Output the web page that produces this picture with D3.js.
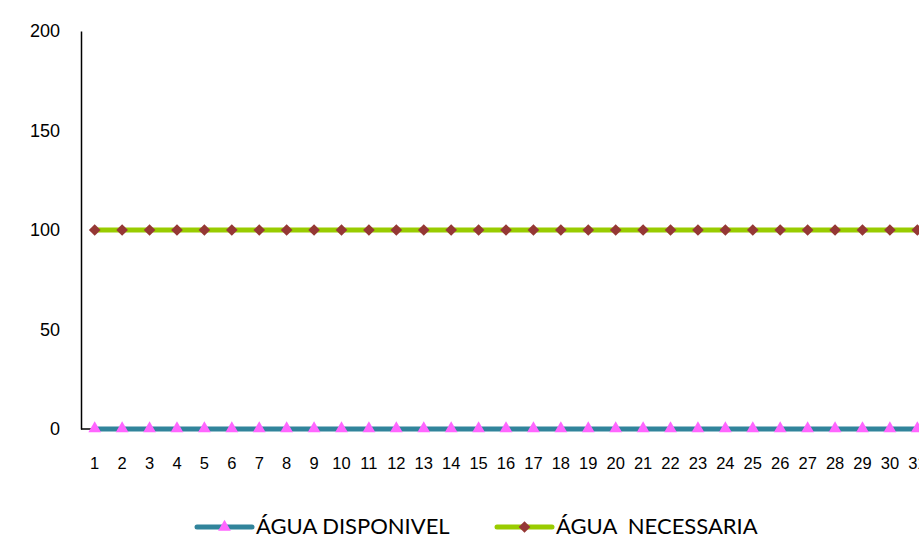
<!DOCTYPE html>
<html><head><meta charset="utf-8">
<script src="https://cdn.jsdelivr.net/npm/d3@7"></script>
<style>body{margin:0;background:#fff}svg{display:block}</style>
</head><body>
<svg id="c" width="919" height="538"></svg>
<script>
const categories = d3.range(1, 32).map(String);
const aguaDisponivel = [0,0,0,0,0,0,0,0,0,0,0,0,0,0,0,0,0,0,0,0,0,0,0,0,0,0,0,0,0,0,0];
const aguaNecessaria = [100,100,100,100,100,100,100,100,100,100,100,100,100,100,100,100,100,100,100,100,100,100,100,100,100,100,100,100,100,100,100];
const yTicks = [0, 50, 100, 150, 200];
const seriesNames = ["ÁGUA DISPONIVEL", "ÁGUA  NECESSARIA"];

(function () {
const svg = d3.select("#c");
const mLeft = 81, mTop = 31, mBottom = 429, step = 27.42;
const x = d3.scaleBand().domain(categories).range([mLeft, mLeft + step * categories.length]);
const y = d3.scaleLinear().domain([0, 200]).range([mBottom, mTop]);

// y axis
const ya = svg.append("g").attr("transform", `translate(${mLeft},0)`)
  .call(d3.axisLeft(y).tickValues(yTicks).tickSize(0).tickPadding(21));
ya.attr("font-size", null).attr("font-family", null);
ya.select(".domain").attr("stroke", "#000").attr("stroke-width", 1.5);
ya.selectAll("text").style("font-family", "'Liberation Sans', Arial, sans-serif").style("font-size", "18px").attr("fill", "#000");

// x axis
const xa = svg.append("g").attr("transform", `translate(0,${mBottom})`)
  .call(d3.axisBottom(x).tickSize(0).tickPadding(28));
xa.attr("font-size", null).attr("font-family", null);
xa.select(".domain").attr("stroke", "#000").attr("stroke-width", 1.5).attr("d", `M${mLeft},0H${mLeft + step * categories.length}`);
xa.selectAll("text").style("font-family", "'Liberation Sans', Arial, sans-serif").style("font-size", "16.5px").attr("fill", "#000");

const cx = d => x(d) + x.bandwidth() / 2;
const line = d3.line().x((d, i) => cx(categories[i])).y(d => y(d));

const tri = d3.symbol().type(d3.symbolTriangle).size(70);
const dia = d3.symbol().type(d3.symbolSquare).size(68);

// Necessaria
svg.append("path").datum(aguaNecessaria).attr("d", line).attr("fill", "none")
  .attr("stroke", "#99CC00").attr("stroke-width", 5);
svg.append("g").selectAll("path").data(aguaNecessaria).join("path")
  .attr("d", dia).attr("fill", "#953735")
  .attr("transform", (d, i) => `translate(${cx(categories[i])},${y(d)}) rotate(45)`);

// Disponivel
svg.append("path").datum(aguaDisponivel).attr("d", line).attr("fill", "none")
  .attr("stroke", "#31849B").attr("stroke-width", 5);
svg.append("g").selectAll("path").data(aguaDisponivel).join("path")
  .attr("d", tri).attr("fill", "#FF66FF")
  .attr("transform", (d, i) => `translate(${cx(categories[i])},${y(d) - 0.5})`);

// legend
const legend = [
  {name: seriesNames[0], stroke: "#31849B", fill: "#FF66FF", sym: tri, rot: 0, x0: 197},
  {name: seriesNames[1], stroke: "#99CC00", fill: "#953735", sym: dia, rot: 45, x0: 497}
];
const ly = 527;
const lg = svg.append("g").selectAll("g").data(legend).join("g");
lg.append("line").attr("x1", d => d.x0).attr("x2", d => d.x0 + 55).attr("y1", ly).attr("y2", ly)
  .attr("stroke", d => d.stroke).attr("stroke-width", 5).attr("stroke-linecap", "round");
lg.append("path").attr("d", d => d.sym()).attr("fill", d => d.fill)
  .attr("transform", d => `translate(${d.x0 + 27.5},${ly}) rotate(${d.rot})`);
lg.append("text").attr("x", d => d.x0 + 59).attr("y", 534).text(d => d.name)
  .style("font-family", "Lato, 'Open Sans', sans-serif").style("font-size", "22px").attr("fill", "#000")
  .attr("xml:space", "preserve").style("white-space", "pre");
})();
</script>
</body></html>
